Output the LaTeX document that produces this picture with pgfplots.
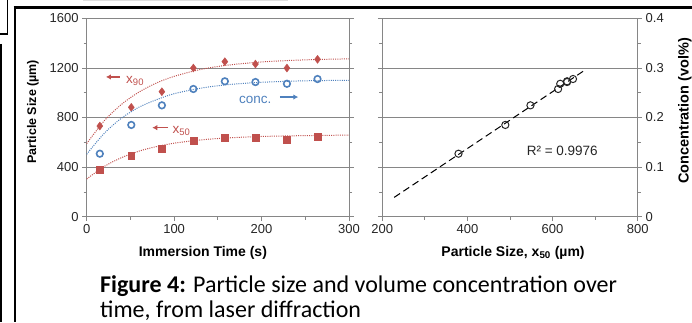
\documentclass[border=0pt]{standalone}
\usepackage{fontspec}
\setmainfont{Liberation Sans}
\newfontfamily\capfont{Carlito}
\usepackage{pgfplots}
\pgfplotsset{compat=1.18}
\usetikzlibrary{arrows.meta}
\definecolor{xred}{HTML}{C0504D}
\definecolor{xblue}{HTML}{4F81BD}
\definecolor{axgray}{HTML}{868686}

\pgfplotsset{
  base/.style={
    scale only axis,
    /pgf/number format/assume math mode=true,
    /pgf/number format/1000 sep={},
    tick label style={font=\fontsize{13}{15}\selectfont, text=black!85},
    tick align=outside,
    major tick length=4.5pt, minor tick length=3pt,
    every tick/.style={axgray, line width=0.8pt},
    axis line style={axgray, line width=0.8pt},
    ymajorgrids, major grid style={axgray, line width=0.8pt},
    clip=false,
  }
}

\begin{document}
\begin{tikzpicture}
\useasboundingbox (0,0) rectangle (692pt,322pt);

% frame lines of the page crop
\draw[line width=2.2pt] (13.7pt,314.5pt) -- (692pt,314.5pt);
\draw[line width=2.2pt] (14.8pt,315.6pt) -- (14.8pt,0pt);
\draw[line width=1.6pt] (0.8pt,278pt) -- (0.8pt,0pt);
\draw[line width=1.6pt] (0pt,288pt) -- (7.5pt,288pt) -- (7.5pt,322pt);
\draw[gray!25, line width=1pt] (83pt,321.5pt) -- (288pt,321.5pt);

% ---------- left panel ----------
\begin{axis}[base,
  at={(86.7pt,105.3pt)}, anchor=south west,
  width=262.3pt, height=198.4pt,
  xmin=0, xmax=300, ymin=0, ymax=1600,
  xtick={0,100,200,300}, minor xtick={50,150,250},
  ytick={0,400,800,1200,1600}, minor ytick={200,600,1000,1400},
  xtick pos=bottom, ytick pos=left,
  xlabel={Immersion Time (s)}, ylabel={Particle Size (µm)},
  every axis x label/.style={at={(rel axis cs:0.443,-0.183)}, anchor=center, font=\fontsize{14}{16}\selectfont\bfseries},
  every axis y label/.style={at={(rel axis cs:-0.205,0.529)}, anchor=center, rotate=90, font=\fontsize{12.5}{14}\selectfont\bfseries},
]
% fitted trend curves
\addplot[xred, line width=1pt, dash pattern=on 1pt off 1.2pt, smooth] coordinates {
 (0,590) (20,773) (40,907) (60,1006) (80,1079) (100,1132) (130,1187) (160,1221) (200,1248) (250,1265) (300,1273)};
\addplot[xred, line width=1pt, dash pattern=on 1pt off 1.2pt, smooth] coordinates {
 (0,304) (20,405) (40,477) (60,529) (80,566) (100,593) (130,619) (160,635) (200,647) (250,654) (300,658)};
% x90
\addplot[only marks, mark=diamond*, mark size=4pt, color=xred, mark options={fill=xred}] coordinates {
 (15,731) (51,882) (86,1008) (122,1199) (158,1250) (193,1231) (229,1199) (264,1269)};
% x50
\addplot[only marks, mark=square*, mark size=3.4pt, color=xred, mark options={fill=xred}] coordinates {
 (15,379) (51,489) (86,548) (122,613) (158,634) (193,634) (229,618) (264,648)};
% annotations
\draw[xred, line width=1.5pt, -{Latex[length=5pt,width=5.5pt]}] (axis cs:38,1127) -- (axis cs:22,1127);
\node[xred, anchor=base west, inner sep=0, font=\fontsize{13.5}{15}\selectfont] at (axis cs:45,1078) {x\textsubscript{90}};
\draw[xred, line width=1.5pt, -{Latex[length=5pt,width=5.5pt]}] (axis cs:93,718) -- (axis cs:75,718);
\node[xred, anchor=base west, inner sep=0, font=\fontsize{13.5}{15}\selectfont] at (axis cs:98,675) {x\textsubscript{50}};
\node[xblue, anchor=base west, inner sep=0, font=\fontsize{13.5}{15}\selectfont] at (axis cs:174,913) {conc.};
\draw[xblue, line width=1.5pt, -{Latex[length=5pt,width=5.5pt]}] (axis cs:221,965) -- (axis cs:242,965);
\end{axis}

% secondary axis of left panel (concentration)
\begin{axis}[base,
  at={(86.7pt,105.3pt)}, anchor=south west,
  width=262.3pt, height=198.4pt,
  xmin=0, xmax=300, ymin=0, ymax=0.4,
  axis x line=none, axis y line*=right, ymajorgrids=false,
  ytick={0,0.1,0.2,0.3,0.4}, minor ytick={0.05,0.15,0.25,0.35},
  yticklabels={,,,,},
]
\addplot[xblue, line width=1pt, dash pattern=on 1pt off 1.2pt, smooth] coordinates {
 (0,0.126) (20,0.168) (40,0.199) (60,0.221) (80,0.236) (100,0.248) (130,0.259) (160,0.266) (200,0.271) (250,0.274) (300,0.275)};
\addplot[only marks, mark=o, mark size=3.3pt, color=xblue, mark options={line width=1.6pt}] coordinates {
 (15,0.127) (51,0.185) (86,0.2245) (122,0.2575) (158,0.273) (193,0.2715) (229,0.268) (264,0.2776)};
\end{axis}

% ---------- right panel ----------
\begin{axis}[base,
  at={(382.3pt,105.3pt)}, anchor=south west,
  width=255.4pt, height=198.4pt,
  xmin=200, xmax=800, ymin=0, ymax=0.4,
  xtick={200,400,600,800}, minor xtick={300,500,700},
  ytick={0,0.1,0.2,0.3,0.4}, minor ytick={0.05,0.15,0.25,0.35},
  xtick pos=bottom, ytick pos=both, yticklabel pos=right,
  xlabel={Particle Size, x\textsubscript{50} (µm)}, ylabel={Concentration (vol\%)},
  every axis x label/.style={at={(rel axis cs:0.512,-0.183)}, anchor=center, font=\fontsize{14}{16}\selectfont\bfseries},
  every axis y label/.style={at={(rel axis cs:1.185,0.533)}, anchor=center, rotate=90, font=\fontsize{14.5}{16}\selectfont\bfseries},
]
\addplot[black, line width=1pt, dash pattern=on 7pt off 4pt] coordinates {(228,0.039) (678.5,0.297)};
\addplot[only marks, mark=o, mark size=3.6pt, color=black!85, mark options={line width=1pt}] coordinates {
 (379,0.127) (489,0.185) (548,0.2245) (613,0.2575) (634,0.273) (634,0.2715) (618,0.268) (648,0.2776)};
\node[anchor=base west, inner sep=0, font=\fontsize{13.5}{15}\selectfont, text=black!85] at (axis cs:539,0.1224) {R² = 0.9976};
\end{axis}

% caption
\node[anchor=base west, inner sep=0, font=\capfont\fontsize{24}{28}\selectfont] at (100pt,29.5pt) {\textbf{Figure 4:} Particle size and volume concentration over};
\node[anchor=base west, inner sep=0, font=\capfont\fontsize{24}{28}\selectfont] at (100pt,4.5pt) {time, from laser diffraction};
\end{tikzpicture}
\end{document}
